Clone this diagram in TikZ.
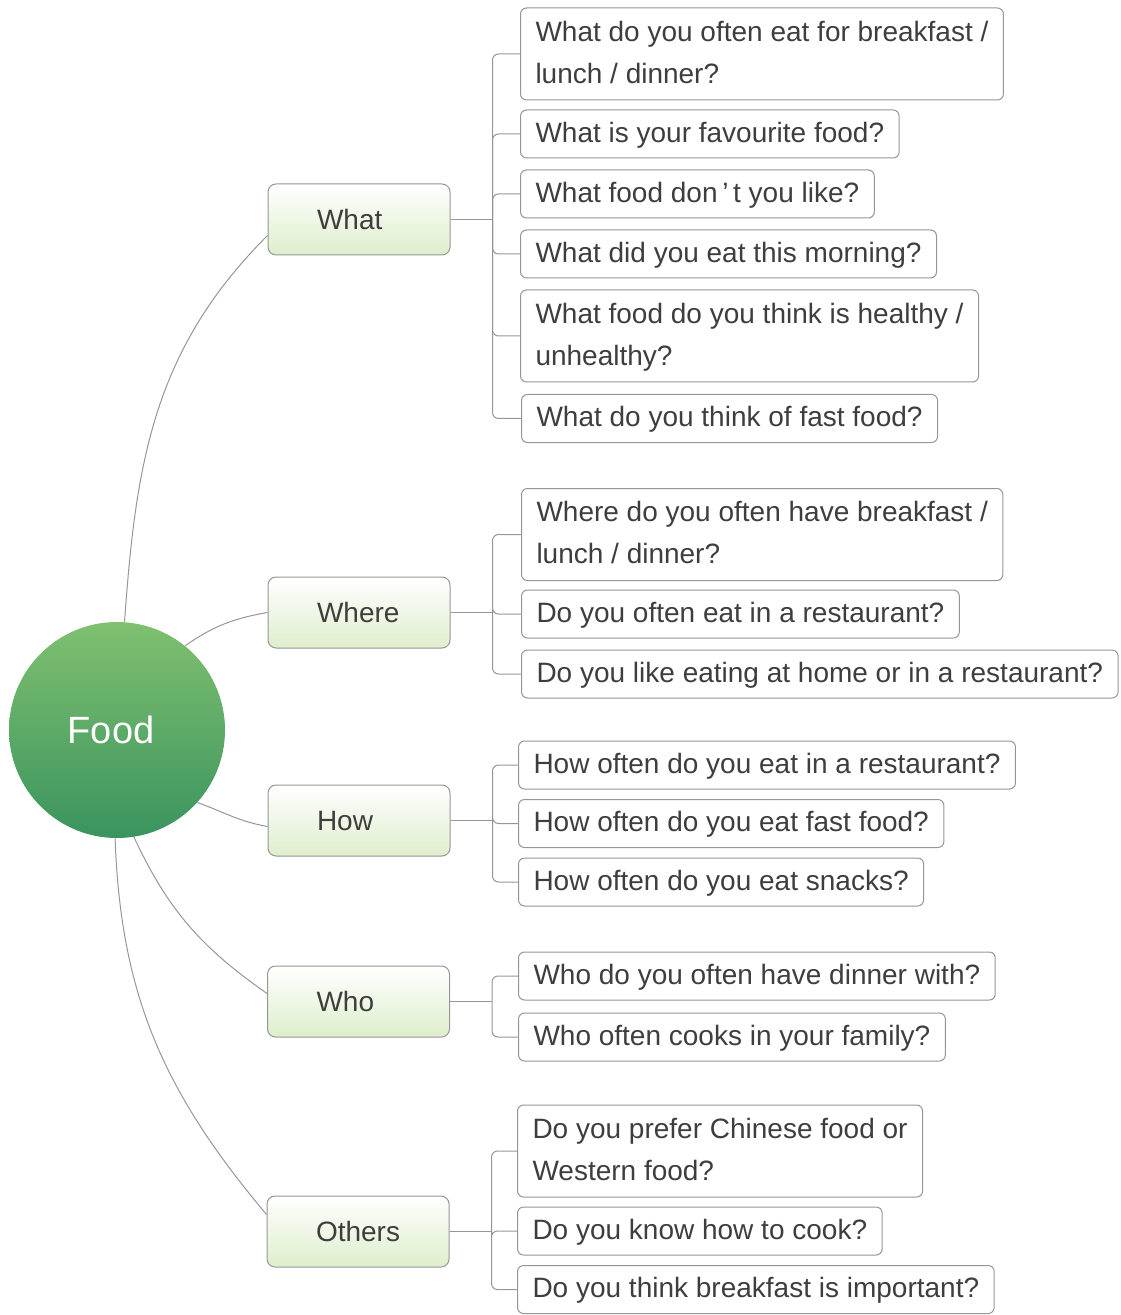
\documentclass[tikz,border=0pt]{standalone}
\usepackage{fontspec}
\setmainfont{Liberation Sans}
\usetikzlibrary{positioning}
\definecolor{foodtop}{RGB}{128, 192, 112}
\definecolor{foodbottom}{RGB}{58, 148, 94}
\definecolor{catgreen}{RGB}{222, 238, 204}
\definecolor{qtext}{RGB}{62, 62, 62}
\definecolor{qline}{RGB}{150, 150, 150}

\begin{document}
\begin{tikzpicture}[
  x=0.5pt, y=-0.5pt,
  every node/.style={text=qtext},
  hub/.style={circle, minimum size=108pt, inner sep=0pt, top color=foodtop, bottom color=foodbottom, font=\fontsize{19}{22}\selectfont, text=white, execute at begin node=\hspace*{-6pt}},
  catbox/.style={draw=qline, line width=0.5pt, rounded corners=4pt, text width=66pt, inner xsep=12.5pt, align=left, minimum height=35.5pt, top color=white, bottom color=catgreen, font=\fontsize{14}{17}\selectfont, execute at begin node=\hspace*{12pt}},
  qbox/.style={draw=qline, line width=0.5pt, fill=white, rounded corners=3pt, anchor=west, align=left, inner xsep=7.5pt, inner ysep=1.5pt, minimum height=24pt, font=\fontsize{14}{21}\selectfont, execute at begin node=\strut},
  tallq/.style={qbox, minimum height=46pt},
  link/.style={qline, line width=0.5pt},
  fork/.style={qline, line width=0.5pt, rounded corners=3pt}
]
\useasboundingbox (0,0) rectangle (1120,1315);
\node[hub] (food) at (117,730) {Food};
\node[catbox] (what) at (359,219.5) {What};
\node[catbox] (where) at (359,612.5) {Where};
\node[catbox] (how) at (359,820.5) {How};
\node[catbox] (who) at (358.5,1001.5) {Who};
\node[catbox] (others) at (358,1231.5) {Others};
\node[tallq] (what1) at (520,54) {\strut What do you often eat for breakfast /\\lunch / dinner?\strut};
\node[qbox] (what2) at (520,134) {What is your favourite food?};
\node[qbox] (what3) at (520,194) {What food don\,’\,t you like?};
\node[qbox] (what4) at (520,254) {What did you eat this morning?};
\node[tallq] (what5) at (520,336) {\strut What food do you think is healthy /\\unhealthy?\strut};
\node[qbox] (what6) at (521,418.5) {What do you think of fast food?};
\node[tallq] (where1) at (521,534.5) {\strut Where do you often have breakfast /\\lunch / dinner?\strut};
\node[qbox] (where2) at (521,614) {Do you often eat in a restaurant?};
\node[qbox] (where3) at (521,674) {Do you like eating at home or in a restaurant?};
\node[qbox] (how1) at (518,765) {How often do you eat in a restaurant?};
\node[qbox] (how2) at (518,823.5) {How often do you eat fast food?};
\node[qbox] (how3) at (518,882) {How often do you eat snacks?};
\node[qbox] (who1) at (518,976) {Who do you often have dinner with?};
\node[qbox] (who2) at (518,1037) {Who often cooks in your family?};
\node[tallq] (others1) at (517,1151) {\strut Do you prefer Chinese food or\\Western food?\strut};
\node[qbox] (others2) at (517,1231) {Do you know how to cook?};
\node[qbox] (others3) at (517,1289.5) {Do you think breakfast is important?};
\draw[link] (food.86) to[out=86, in=225] ([yshift=-8pt]what.west);
\draw[link] (food.51) to[out=35, in=190] (where.west);
\draw[link] (food.-42) to[out=-20, in=170] ([yshift=-3pt]how.west);
\draw[link] (food.-81) to[out=-65, in=145] ([yshift=4pt]who.west);
\draw[link] (food.-91) to[out=-88, in=130] ([yshift=8.5pt]others.west);
\foreach \cat in {what, where, how, who, others} {
  \coordinate (\cat fork) at ([xshift=21pt]\cat.east);
  \draw[link] (\cat.east) -- (\cat fork);
}
\foreach \q in {what1, what2, what3, what4, what5, what6} \draw[fork] (whatfork) |- (\q.west);
\foreach \q in {where1, where2, where3} \draw[fork] (wherefork) |- (\q.west);
\foreach \q in {how1, how2, how3} \draw[fork] (howfork) |- (\q.west);
\foreach \q in {who1, who2} \draw[fork] (whofork) |- (\q.west);
\foreach \q in {others1, others2, others3} \draw[fork] (othersfork) |- (\q.west);
\end{tikzpicture}
\end{document}
